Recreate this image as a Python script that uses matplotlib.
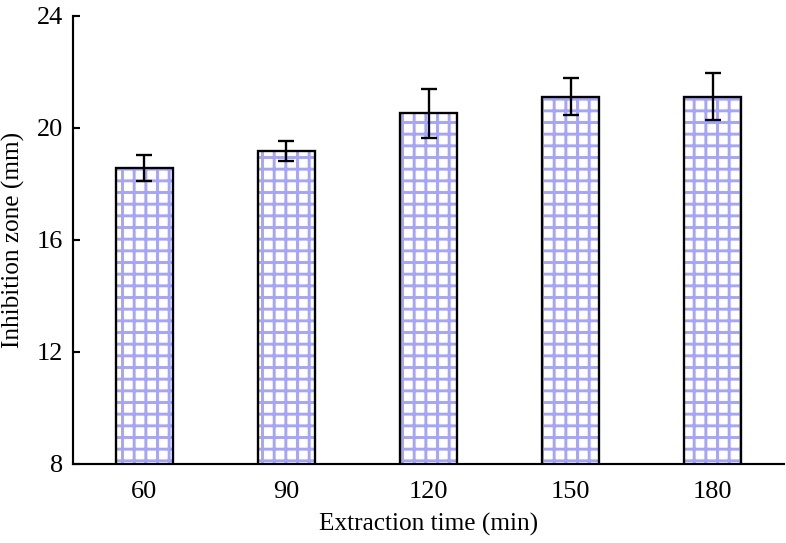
import numpy as np
import matplotlib.pyplot as plt

# extraction time vs inhibition zone
times = ['60', '90', '120', '150', '180']
zone = [18.57, 19.18, 20.52, 21.12, 21.12]
err = [0.48, 0.36, 0.86, 0.65, 0.85]

DPI = 140
plt.rcParams['font.family'] = ['Liberation Serif', 'DejaVu Serif']
plt.rcParams['hatch.linewidth'] = 1.5

fig = plt.figure(figsize=(786 / DPI, 543 / DPI), dpi=DPI)
ax = fig.add_axes([73 / 786, 1 - 464 / 543, 711 / 786, 448 / 543])

x = np.arange(len(times))
ax.bar(x, zone, width=0.4, color='white', edgecolor='#a4a4ff',
       hatch='++', linewidth=0)
ax.bar(x, zone, width=0.4, fill=False, edgecolor='black', linewidth=1.2)
ax.errorbar(x, zone, yerr=err, fmt='none', ecolor='black', elinewidth=1.2,
            capsize=3.9, capthick=1.2)

ax.set_xlim(-0.5, 4.5)
ax.set_ylim(8, 24)
ax.set_yticks([8, 12, 16, 20, 24])
ax.set_xticks(x)
ax.set_xticklabels(times)
ax.spines['top'].set_visible(False)
ax.spines['right'].set_visible(False)
for s in ('left', 'bottom'):
    ax.spines[s].set_linewidth(1.1)
ax.tick_params(axis='y', direction='in', length=3.6, width=1.1, pad=5,
               labelsize=13.5)
ax.tick_params(axis='x', length=0, pad=9, labelsize=13.5)
ax.set_xlabel('Extraction time (min)', fontsize=13, labelpad=5)
ax.set_ylabel('Inhibition zone (mm)', fontsize=13, labelpad=6)

fig.savefig('out.png', dpi=DPI)
